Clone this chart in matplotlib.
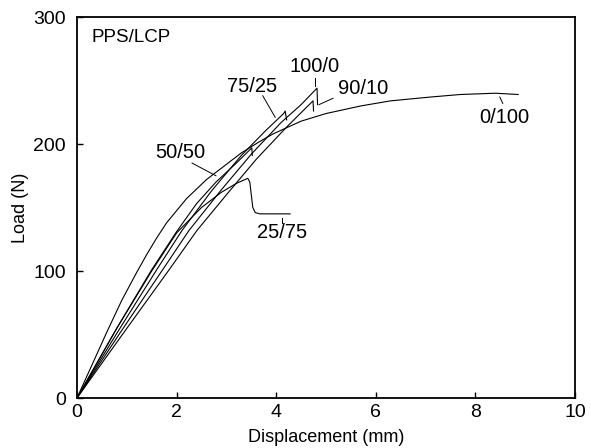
import matplotlib
matplotlib.use("Agg")
import matplotlib.pyplot as plt

plt.rcParams['font.family'] = ['Liberation Sans', 'DejaVu Sans']

# load-displacement curves, PPS/LCP blends
x_0_100 = [0, 0.3, 0.6, 0.9, 1.2, 1.4, 1.6, 1.8, 2.2, 2.6, 3.0, 3.3, 3.67, 3.94,
           4.5, 5.0, 5.7, 6.3, 7.1, 7.7, 8.4, 8.86]
y_0_100 = [0, 26, 52, 77, 99, 113, 126, 138, 157, 172, 184, 193, 202, 208,
           218, 224, 230, 234, 237, 239, 240, 239]

x_50_50 = [0, 0.8, 1.5, 2.0, 2.4, 2.79, 3.2, 3.51, 3.52]
y_50_50 = [0, 55, 101, 131, 153, 170, 185, 197, 191]

x_25_75 = [0, 0.8, 1.5, 2.0, 2.5, 2.9, 3.2, 3.43, 3.47, 3.50, 3.53, 3.58, 3.67, 3.9, 4.28]
y_25_75 = [0, 55, 100, 130, 150, 162, 169, 173, 170, 160, 150, 146, 145, 145, 145]

x_75_25 = [0, 0.8, 1.6, 2.11, 2.7, 3.3, 3.8, 4.15, 4.18, 4.21]
y_75_25 = [0, 51, 101, 132, 163, 191, 211, 224, 226, 219]

x_100_0 = [0, 0.86, 1.72, 2.25, 2.9, 3.5, 4.1, 4.5, 4.82, 4.83]
y_100_0 = [0, 51, 101, 132, 164, 192, 217, 231, 244, 231]

x_90_10 = [0, 0.93, 1.85, 2.41, 3.0, 3.6, 4.2, 4.74, 4.75]
y_90_10 = [0, 51, 101, 132, 160, 188, 213, 234, 226]

curves = [(x_0_100, y_0_100), (x_50_50, y_50_50), (x_25_75, y_25_75),
          (x_75_25, y_75_25), (x_100_0, y_100_0), (x_90_10, y_90_10)]

# label text, label position, leader line start/end
labels = [
    ("0/100", (8.59, 221), (8.49, 237), (8.55, 232)),
    ("50/50", (2.07, 193), (2.31, 185), (2.79, 175)),
    ("25/75", (4.12, 130), (4.12, 142), (4.12, 138)),
    ("75/25", (3.51, 245), (3.73, 238), (3.98, 221)),
    ("100/0", (4.78, 261), (4.78, 252), (4.78, 246)),
    ("90/10", (5.75, 244), (4.86, 231), (5.14, 236)),
]

fig = plt.figure(figsize=(5.91, 4.48), dpi=100)
ax = fig.add_axes([0.1303, 0.1116, 0.8426, 0.8504])

for xs, ys in curves:
    ax.plot(xs, ys, color='black', lw=0.8)

for text, pos, p0, p1 in labels:
    ax.text(pos[0], pos[1], text, fontsize=14.5, ha='center', va='center')
    ax.plot([p0[0], p1[0]], [p0[1], p1[1]], color='black', lw=0.7)

ax.text(0.3, 284, "PPS/LCP", fontsize=13.5, ha='left', va='center')

ax.set_xlim(0, 10)
ax.set_ylim(0, 300)
ax.set_xticks([0, 2, 4, 6, 8, 10])
ax.set_yticks([0, 100, 200, 300])
ax.tick_params(direction='in', length=4, width=1, labelsize=14)
ax.tick_params(axis='y', pad=8)
ax.tick_params(axis='x', pad=4)
for s in ax.spines.values():
    s.set_linewidth(1.3)

ax.set_xlabel("Displacement (mm)", fontsize=13, labelpad=6)
ax.set_ylabel("Load (N)", fontsize=13, labelpad=3)

plt.savefig("out.png", dpi=100)
